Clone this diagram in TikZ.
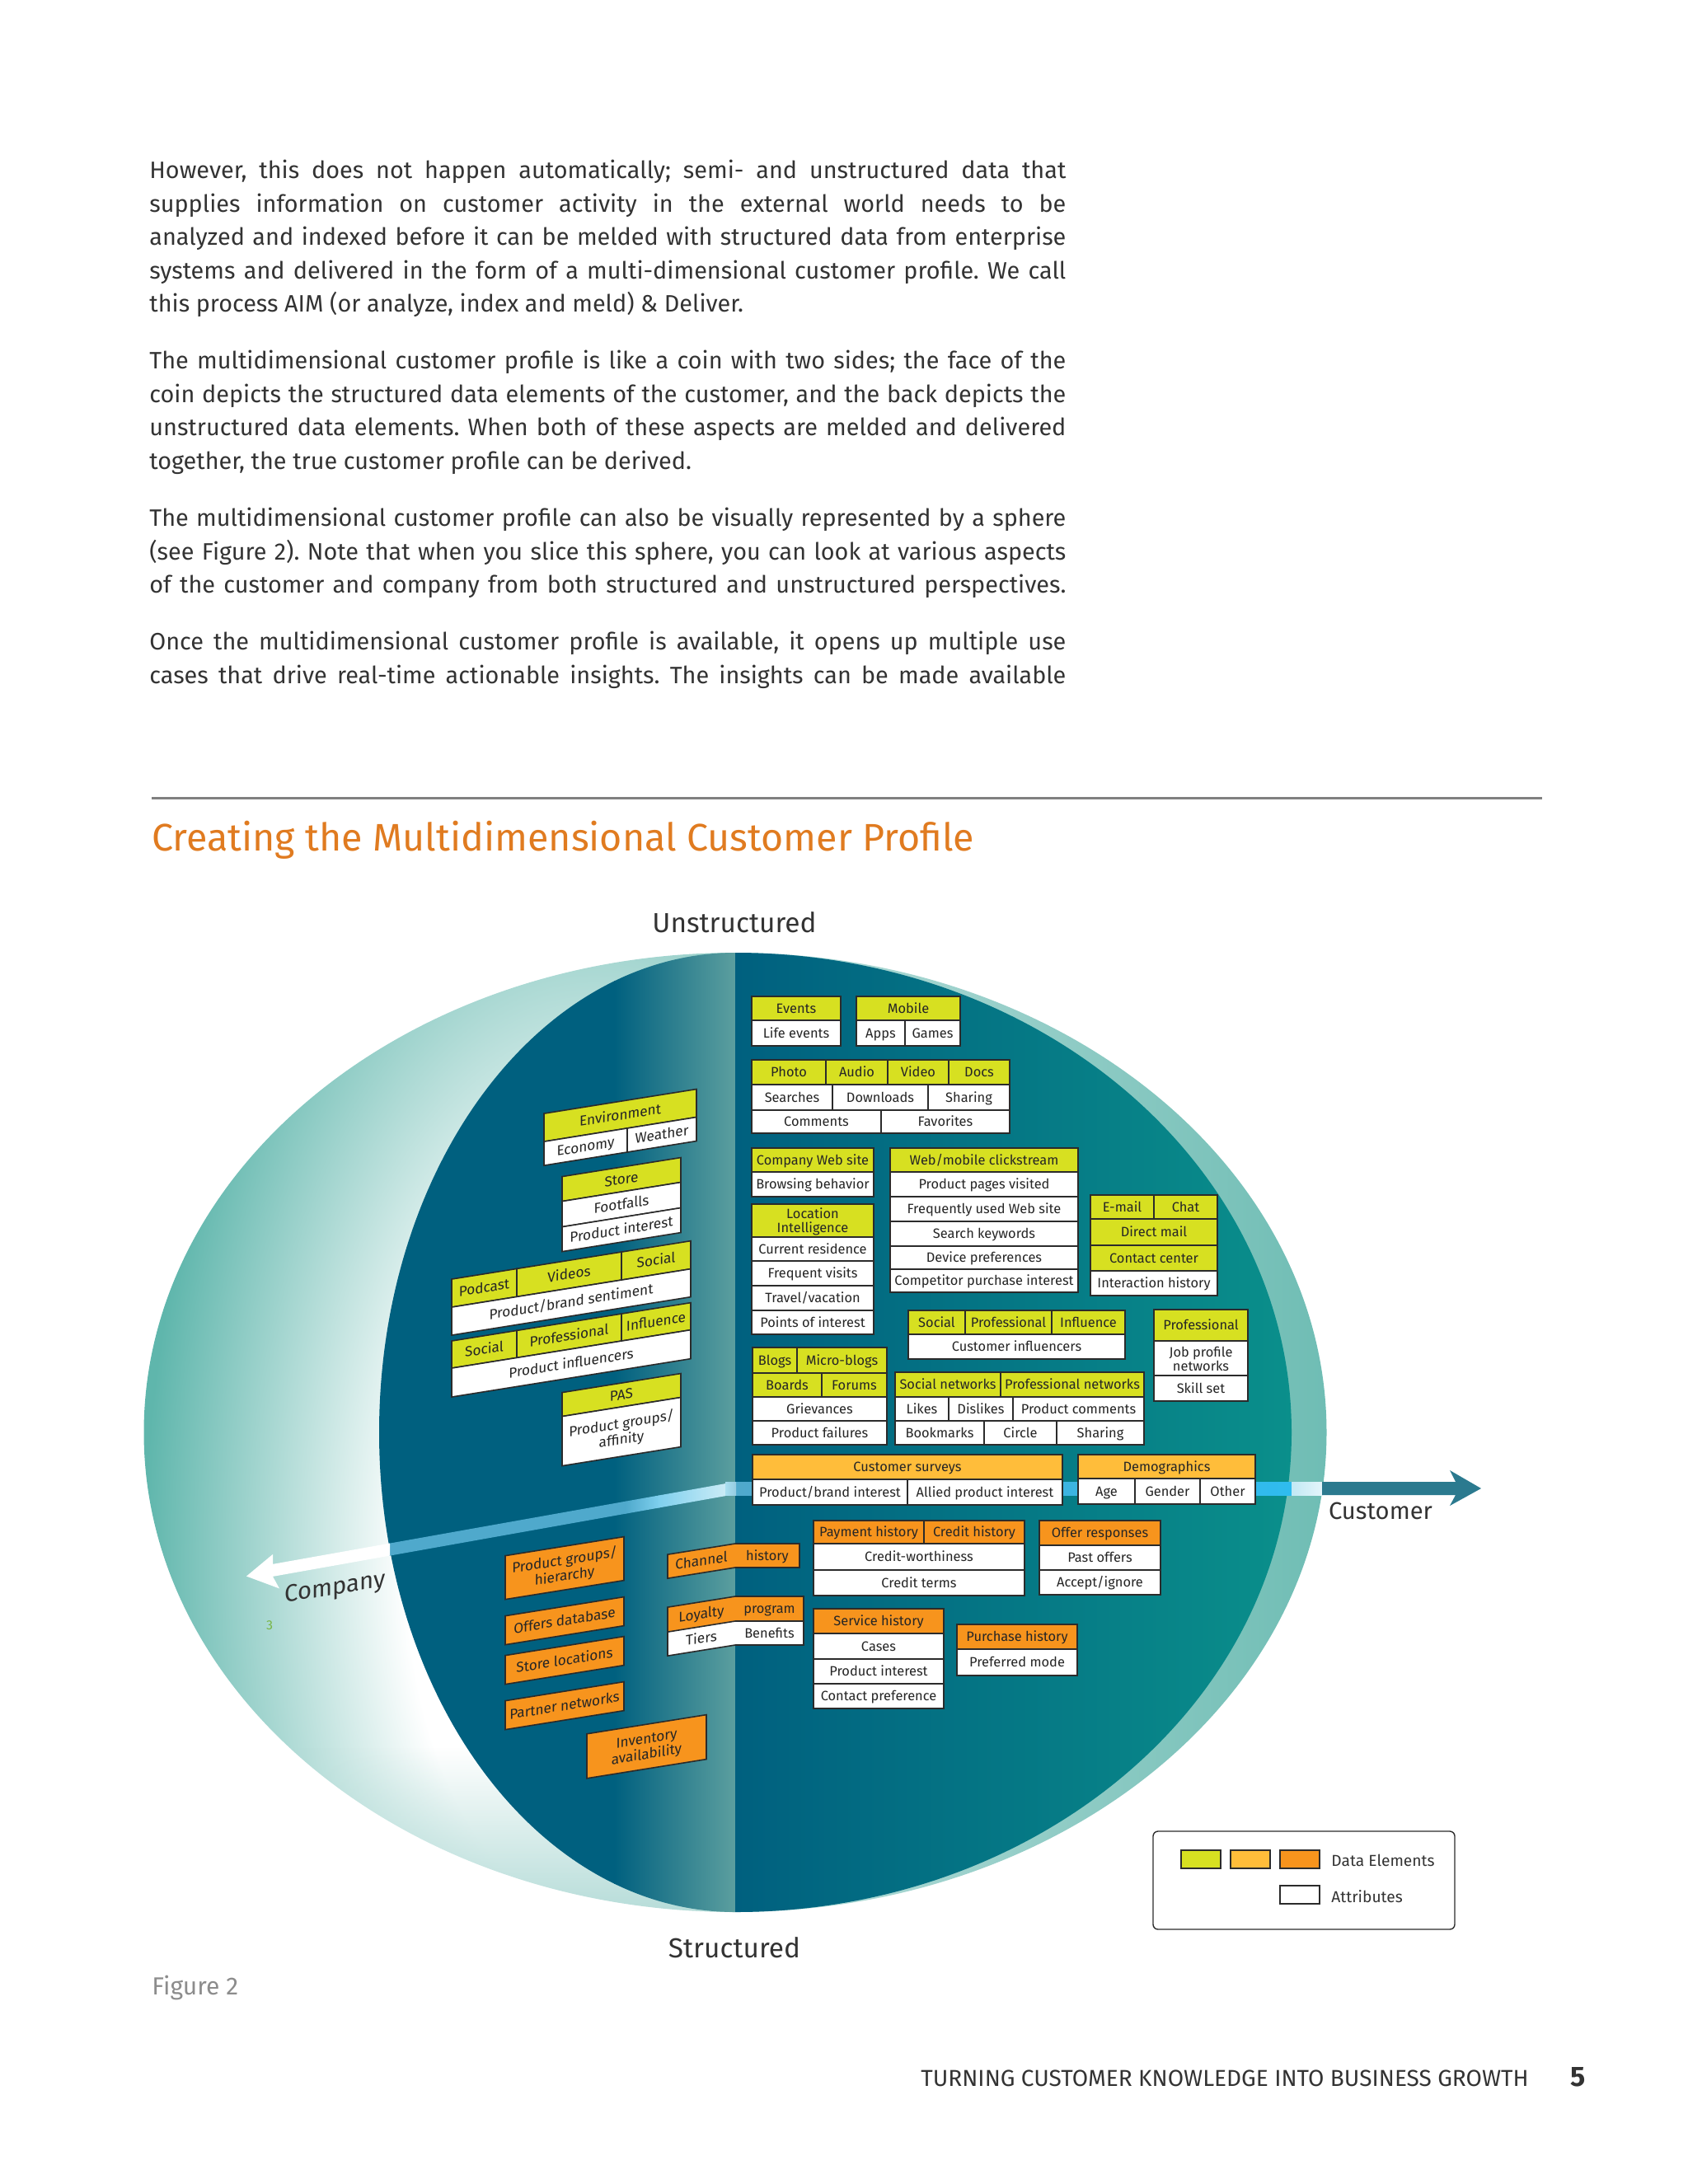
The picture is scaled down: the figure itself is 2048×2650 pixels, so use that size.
\documentclass[tikz,border=0pt]{standalone}
\usepackage{fontspec}
\usepackage{xcolor}
\setmainfont{Fira Sans}
\usetikzlibrary{positioning,calc,fadings}

\definecolor{limecell}{HTML}{D7E021}
\definecolor{ambercell}{HTML}{FFBD3A}
\definecolor{orangecell}{HTML}{F7941D}
\definecolor{edgeline}{HTML}{2B2B2B}
\definecolor{deepblue}{HTML}{00607F}
\definecolor{deepteal}{HTML}{0A8F8B}
\definecolor{foldgrey}{HTML}{5C9F9F}
\definecolor{bandblue}{HTML}{4FA9CC}
\definecolor{bandbright}{HTML}{2FBCEF}
\definecolor{bandpale}{HTML}{A8DFF0}
\definecolor{bandmid}{HTML}{7FD0EE}
\definecolor{arrowblue}{HTML}{2B7A8F}
\definecolor{titleorange}{HTML}{E07B20}
\definecolor{bodygrey}{HTML}{333333}
\definecolor{crescentedge}{HTML}{5FB6AC}
\definecolor{crescentfoot}{HTML}{B5DCD8}
\definecolor{rimpale}{HTML}{B9DEDB}
\definecolor{rimteal}{HTML}{6FBDB4}
\definecolor{straygreen}{HTML}{7AB648}

\pgfdeclareradialshading{crescentshade}{\pgfpointorigin}{color(0bp)=(white); color(5.2bp)=(white); color(12.5bp)=(crescentedge); color(50bp)=(crescentedge)}

\newcommand{\cellpt}{8.2}
\tikzset{
  limebox/.style={draw=edgeline, line width=.8pt, fill=limecell, inner sep=0pt, outer sep=0pt, align=center, text=black!85, font=\fontsize{\cellpt}{8.5}\selectfont},
  amberbox/.style={limebox, fill=ambercell},
  orangebox/.style={limebox, fill=orangecell},
  whitebox/.style={limebox, fill=white},
  para/.style={anchor=north west, inner sep=0pt, text width=556pt, align=justify, text=bodygrey, font=\fontsize{14.4}{20.25}\selectfont\frenchspacing},
  axislabel/.style={inner sep=0pt, text=black!80, font=\fontsize{14.6}{15}\selectfont},
  folded/.style={shift={(892,0)}, yslant=.16, shift={(-892,0)}, every node/.append style={transform shape}},
}

% style, name, x0, y0, x1, y1, text
\newcommand{\cellbox}[7]{
  \node[#1, minimum width={(#5-#3)*.5}, minimum height={(#6-#4)*.5}] (#2) at ({(#3+#5)/2},{(#4+#6)/2}) {\rule[-1.8pt]{0pt}{9.3pt}#7};
}
\newcommand{\cellstrut}{\rule[-1.8pt]{0pt}{9.3pt}}

\begin{document}
\begin{tikzpicture}[x=.5pt, y=-.5pt]
\useasboundingbox (0,0) rectangle (2048,2650);

% text above the figure
\node[para] (parone) at (181,194) {However, this does not happen automatically; semi- and unstructured data that\linebreak supplies information on customer activity in the external world needs to be\linebreak analyzed and indexed before it can be melded with structured data from enterprise\linebreak systems and delivered in the form of a multi-dimensional customer profile. We call\linebreak this process AIM (or analyze, index and meld) \& Deliver.};
\node[para] (partwo) at (181,425) {The multidimensional customer profile is like a coin with two sides; the face of the\linebreak coin depicts the structured data elements of the customer, and the back depicts the\linebreak unstructured data elements. When both of these aspects are melded and delivered\linebreak together, the true customer profile can be derived.};
\node[para] (parthree) at (181,616) {The multidimensional customer profile can also be visually represented by a sphere\linebreak (see Figure 2). Note that when you slice this sphere, you can look at various aspects\linebreak \hbox to 556pt{of the customer and company from both structured and unstructured perspectives.}};
\node[para] (parfour) at (181,766) {Once the multidimensional customer profile is available, it opens up multiple use\linebreak \hbox to 556pt{cases that drive real-time actionable insights. The insights can be made available}};

\draw[line width=1.5pt, color=black!50] (184,968) -- (1871,968);
\node[anchor=west, inner sep=0pt, text=titleorange, font=\fontsize{23.3}{24}\selectfont] (title) at (184,1019) {Creating the Multidimensional Customer Profile};

% left crescent
\begin{scope}
  \clip (892,1156) arc[start angle=90, end angle=270, x radius=358.75pt, y radius=291pt] -- cycle;
  \shade[shading=crescentshade] (720,1900) ellipse (1092 and 2000);
  \fill[crescentfoot, path fading=north] (170,2120) rectangle (892,2325);
\end{scope}
% right rim
\shade[left color=rimpale, right color=rimteal] (892,1156) arc[start angle=90, end angle=-90, x radius=358.75pt, y radius=291pt] -- cycle;
% dark halves
\begin{scope}
  \clip (892,1156) arc[start angle=90, end angle=270, x radius=216pt, y radius=291pt] -- cycle;
  \fill[deepblue] (450,1150) rectangle (746,2325);
  \shade[left color=deepblue, right color=foldgrey] (745,1150) rectangle (893,2325);
\end{scope}
\shade[left color=deepblue, right color=deepteal] (892,1156) arc[start angle=90, end angle=-90, x radius=337.5pt, y radius=291pt] -- cycle;

% customer axis
\shade[left color=bandblue, right color=bandbright] (893,1798) rectangle (1568,1814);
\shade[left color=bandpale!70!white, right color=bandpale!30!white] (1567,1798) rectangle (1605,1814);
\shade[left color=bandpale, right color=bandblue!60!white] (880,1798) rectangle (893,1814);
\fill[arrowblue] (1604,1798) -- (1766,1798) -- (1759,1784) -- (1797,1806) -- (1759,1827) -- (1766,1814) -- (1604,1814) -- cycle;
% company axis
\begin{scope}[shift={(892,0)}, yslant=.178, shift={(-892,0)}]
  \fill[bandblue] (472,1798) rectangle (760,1813);
  \shade[left color=bandblue, right color=bandmid] (759,1798) rectangle (800,1813);
  \shade[left color=bandmid, right color=bandpale!60!white] (799,1798) rectangle (880,1813);
  \fill[white] (473,1798) -- (331,1798) -- (331,1786) -- (299,1807) -- (339,1829) -- (331,1813) -- (473,1813) -- cycle;
\end{scope}

% lifted boxes on the left half
\begin{scope}[folded]
  \renewcommand{\cellpt}{8.6}
  \cellbox{limebox}{environment}{660}{1314}{845}{1348}{Environment}
  \cellbox{whitebox}{economy}{660}{1348}{761}{1377}{Economy}
  \cellbox{whitebox}{weather}{761}{1348}{845}{1377}{Weather}
  \cellbox{limebox}{store}{682}{1394}{826}{1424}{Store}
  \cellbox{whitebox}{footfalls}{682}{1424}{826}{1455}{Footfalls}
  \cellbox{whitebox}{storeinterest}{682}{1455}{826}{1485}{Product interest}
  \cellbox{limebox}{podcast}{548}{1497}{627}{1531}{Podcast}
  \cellbox{limebox}{videos}{627}{1497}{754}{1531}{Videos}
  \cellbox{limebox}{socialone}{754}{1497}{838}{1531}{Social}
  \cellbox{whitebox}{sentiment}{548}{1531}{838}{1565}{Product/brand sentiment}
  \cellbox{limebox}{socialtwo}{548}{1572}{627}{1605}{Social}
  \cellbox{limebox}{profone}{627}{1572}{754}{1605}{Professional}
  \cellbox{limebox}{influenceone}{754}{1572}{838}{1605}{Influence}
  \cellbox{whitebox}{influencers}{548}{1605}{838}{1640}{Product influencers}
  \cellbox{limebox}{pas}{682}{1656}{826}{1685}{PAS}
  \cellbox{whitebox}{affinity}{682}{1685}{826}{1745}{Product groups/\\ affinity}
  \cellbox{orangebox}{hierarchy}{613}{1843}{757}{1896}{Product groups/\\ hierarchy}
  \cellbox{orangebox}{offers}{613}{1916}{757}{1951}{Offers database}
  \cellbox{orangebox}{locations}{613}{1964}{757}{1999}{Store locations}
  \cellbox{orangebox}{partners}{613}{2019}{757}{2054}{Partner networks}
  \cellbox{orangebox}{inventory}{712}{2075}{857}{2129}{Inventory\\ availability}
  \node[orangebox, draw=none, minimum width=41pt, minimum height=14.5pt] (channela) at (851,1887.5) {\cellstrut Channel};
  \node[orangebox, draw=none, minimum width=41pt, minimum height=15pt] (loyaltya) at (851,1952) {\cellstrut Loyalty};
  \node[whitebox, draw=none, minimum width=41pt, minimum height=14.5pt] (tiersa) at (851,1981.5) {\cellstrut Tiers};
  \node[axislabel] (company) at (407,1850) {Company};
\end{scope}
\node[orangebox, draw=none, minimum width=39pt, minimum height=14.5pt] (channelb) at (931,1887.5) {\cellstrut history};
\node[orangebox, draw=none, minimum width=41.5pt, minimum height=15pt] (loyaltyb) at (933.5,1952) {\cellstrut program};
\node[whitebox, draw=none, minimum width=41.5pt, minimum height=14.5pt] (tiersb) at (933.5,1981.5) {\cellstrut Benefits};
\draw[edgeline, line width=.8pt] (channela.north west) -- (channelb.north west) -- (channelb.north east) -- (channelb.south east) -- (channelb.south west) -- (channela.south west) -- cycle;
\draw[edgeline, line width=.8pt] (loyaltya.north west) -- (loyaltyb.north west) -- (loyaltyb.north east) -- (loyaltyb.south east) -- (tiersb.south east) -- (tiersb.south west) -- (tiersa.south west) -- cycle;
\draw[edgeline, line width=.8pt] (loyaltya.south west) -- (loyaltyb.south west) -- (loyaltyb.south east);

% boxes on the right half
\cellbox{limebox}{events}{912}{1209}{1020}{1238}{Events}
\cellbox{whitebox}{lifeevents}{912}{1238}{1020}{1269}{Life events}
\cellbox{limebox}{mobile}{1039}{1209}{1165}{1238}{Mobile}
\cellbox{whitebox}{apps}{1039}{1238}{1098}{1269}{Apps}
\cellbox{whitebox}{games}{1098}{1238}{1165}{1269}{Games}
\cellbox{limebox}{photo}{912}{1286}{1002}{1316}{Photo}
\cellbox{limebox}{audio}{1002}{1286}{1077}{1316}{Audio}
\cellbox{limebox}{video}{1077}{1286}{1151}{1316}{Video}
\cellbox{limebox}{docs}{1151}{1286}{1225}{1316}{Docs}
\cellbox{whitebox}{searches}{912}{1316}{1010}{1347}{Searches}
\cellbox{whitebox}{downloads}{1010}{1316}{1126}{1347}{Downloads}
\cellbox{whitebox}{sharingone}{1126}{1316}{1225}{1347}{Sharing}
\cellbox{whitebox}{comments}{912}{1347}{1069}{1375}{Comments}
\cellbox{whitebox}{favorites}{1069}{1347}{1225}{1375}{Favorites}
\cellbox{limebox}{website}{912}{1393}{1060}{1422}{Company Web site}
\cellbox{whitebox}{browsing}{912}{1422}{1060}{1452}{Browsing behavior}
\cellbox{limebox}{location}{912}{1461}{1060}{1501}{Location\\ Intelligence}
\cellbox{whitebox}{residence}{912}{1501}{1060}{1530}{Current residence}
\cellbox{whitebox}{visits}{912}{1530}{1060}{1560}{Frequent visits}
\cellbox{whitebox}{travel}{912}{1560}{1060}{1590}{Travel/vacation}
\cellbox{whitebox}{points}{912}{1590}{1060}{1619}{Points of interest}
\cellbox{limebox}{clickstream}{1080}{1393}{1308}{1422}{Web/mobile clickstream}
\cellbox{whitebox}{pages}{1080}{1422}{1308}{1452}{Product pages visited}
\cellbox{whitebox}{frequent}{1080}{1452}{1308}{1482}{Frequently used Web site}
\cellbox{whitebox}{keywords}{1080}{1482}{1308}{1512}{Search keywords}
\cellbox{whitebox}{device}{1080}{1512}{1308}{1540}{Device preferences}
\cellbox{whitebox}{competitor}{1080}{1540}{1308}{1568}{Competitor purchase interest}
\cellbox{limebox}{email}{1323}{1450}{1400}{1479}{E-mail}
\cellbox{limebox}{chat}{1400}{1450}{1477}{1479}{Chat}
\cellbox{limebox}{directmail}{1323}{1479}{1477}{1511}{Direct mail}
\cellbox{limebox}{contact}{1323}{1511}{1477}{1542}{Contact center}
\cellbox{whitebox}{interaction}{1323}{1542}{1477}{1572}{Interaction history}
\cellbox{limebox}{socialthree}{1102}{1590}{1171}{1619}{Social}
\cellbox{limebox}{proftwo}{1171}{1590}{1276}{1619}{Professional}
\cellbox{limebox}{influencetwo}{1276}{1590}{1365}{1619}{Influence}
\cellbox{whitebox}{custinfluencers}{1102}{1619}{1365}{1649}{Customer influencers}
\cellbox{limebox}{profthree}{1400}{1589}{1514}{1627}{Professional}
\cellbox{whitebox}{jobprofile}{1400}{1627}{1514}{1669}{Job profile\\ networks}
\cellbox{whitebox}{skillset}{1400}{1669}{1514}{1700}{Skill set}
\cellbox{limebox}{blogs}{913}{1635}{967}{1666}{Blogs}
\cellbox{limebox}{microblogs}{967}{1635}{1076}{1666}{Micro-blogs}
\cellbox{limebox}{boards}{913}{1666}{997}{1695}{Boards}
\cellbox{limebox}{forums}{997}{1666}{1076}{1695}{Forums}
\cellbox{whitebox}{grievances}{913}{1695}{1076}{1724}{Grievances}
\cellbox{whitebox}{failures}{913}{1724}{1076}{1753}{Product failures}
\cellbox{limebox}{socialnet}{1086}{1665}{1214}{1695}{Social networks}
\cellbox{limebox}{profnet}{1214}{1665}{1388}{1695}{Professional networks}
\cellbox{whitebox}{likes}{1086}{1695}{1151}{1724}{Likes}
\cellbox{whitebox}{dislikes}{1151}{1695}{1229}{1724}{Dislikes}
\cellbox{whitebox}{prodcomments}{1229}{1695}{1388}{1724}{Product comments}
\cellbox{whitebox}{bookmarks}{1086}{1724}{1194}{1753}{Bookmarks}
\cellbox{whitebox}{circle}{1194}{1724}{1282}{1753}{Circle}
\cellbox{whitebox}{sharingtwo}{1282}{1724}{1388}{1753}{Sharing}
\cellbox{amberbox}{surveys}{913}{1765}{1289}{1795}{Customer surveys}
\cellbox{whitebox}{brandinterest}{913}{1795}{1101}{1826}{Product/brand interest}
\cellbox{whitebox}{alliedinterest}{1101}{1795}{1289}{1826}{Allied product interest}
\cellbox{amberbox}{demographics}{1308}{1765}{1523}{1794}{Demographics}
\cellbox{whitebox}{age}{1308}{1794}{1377}{1825}{Age}
\cellbox{whitebox}{gender}{1377}{1794}{1456}{1825}{Gender}
\cellbox{whitebox}{other}{1456}{1794}{1523}{1825}{Other}
\cellbox{orangebox}{payment}{987}{1845}{1121}{1873}{Payment history}
\cellbox{orangebox}{credit}{1121}{1845}{1243}{1873}{Credit history}
\cellbox{whitebox}{worthiness}{987}{1873}{1243}{1905}{Credit-worthiness}
\cellbox{whitebox}{terms}{987}{1905}{1243}{1936}{Credit terms}
\cellbox{orangebox}{responses}{1261}{1845}{1408}{1875}{Offer responses}
\cellbox{whitebox}{pastoffers}{1261}{1875}{1408}{1905}{Past offers}
\cellbox{whitebox}{accept}{1261}{1905}{1408}{1935}{Accept/ignore}
\cellbox{orangebox}{service}{987}{1952}{1145}{1982}{Service history}
\cellbox{whitebox}{cases}{987}{1982}{1145}{2013}{Cases}
\cellbox{whitebox}{serviceinterest}{987}{2013}{1145}{2043}{Product interest}
\cellbox{whitebox}{preference}{987}{2043}{1145}{2073}{Contact preference}
\cellbox{orangebox}{purchase}{1161}{1971}{1307}{2001}{Purchase history}
\cellbox{whitebox}{prefmode}{1161}{2001}{1307}{2033}{Preferred mode}

% labels round the sphere
\node[axislabel, font=\fontsize{16.7}{18}\selectfont] (unstructured) at (891,1119) {Unstructured};
\node[axislabel, font=\fontsize{16.7}{18}\selectfont] (structured) at (891,2363) {Structured};
\node[axislabel] (customer) at (1675,1833) {Customer};
\node[inner sep=0pt, text=straygreen, font=\fontsize{8}{8}\selectfont] (stray) at (327,1972) {3};

% legend
\draw[edgeline, line width=.7pt, rounded corners=3pt] (1399,2222) rectangle (1765,2341);
\cellbox{limebox}{keylime}{1433}{2245}{1481}{2267}{}
\cellbox{amberbox}{keyamber}{1493}{2245}{1541}{2267}{}
\cellbox{orangebox}{keyorange}{1553}{2245}{1601}{2267}{}
\cellbox{whitebox}{keywhite}{1553}{2288}{1601}{2310}{}
\node[anchor=west, inner sep=0pt, text=bodygrey, font=\fontsize{9.6}{10}\selectfont] (keydata) at (1615,2257) {Data Elements};
\node[anchor=west, inner sep=0pt, text=bodygrey, font=\fontsize{9.6}{10}\selectfont] (keyattr) at (1615,2301) {Attributes};

\node[anchor=west, inner sep=0pt, text=black!45, font=\fontsize{15}{15}\selectfont] (figlabel) at (184,2412) {Figure 2};
\node[anchor=west, inner sep=0pt, text=bodygrey, font=\fontsize{14}{14}\selectfont] (running) at (1117,2522) {TURNING CUSTOMER KNOWLEDGE INTO BUSINESS GROWTH};
\node[anchor=center, inner sep=0pt, text=bodygrey, font=\fontsize{17}{17}\selectfont\bfseries] (pageno) at (1915,2520) {5};
\end{tikzpicture}
\end{document}
